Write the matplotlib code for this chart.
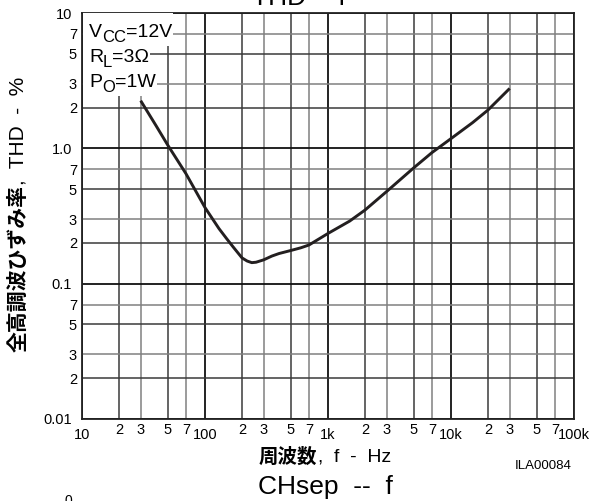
import matplotlib
matplotlib.use("Agg")
import matplotlib.pyplot as plt
from matplotlib.patches import Rectangle
from matplotlib.ticker import FixedLocator, FixedFormatter

# ---------------- data ----------------
freq_hz = [30, 40, 50, 70, 100, 130, 150, 170, 200, 220, 240, 260, 300, 350, 400,
           500, 600, 700, 1000, 1500, 2000, 3000, 5000, 7000, 10000, 15000, 20000, 30000]
thd_pct = [2.25, 1.47, 1.05, 0.65, 0.365, 0.255, 0.215, 0.186, 0.155, 0.147, 0.143,
           0.144, 0.150, 0.160, 0.167, 0.176, 0.184, 0.193, 0.235, 0.29, 0.35, 0.48,
           0.72, 0.93, 1.18, 1.55, 1.92, 2.77]

x_major = [10, 100, 1000, 10000, 100000]
x_major_labels = ["10", "100", "1k", "10k", "100k"]
x_minor = [20, 30, 50, 70, 200, 300, 500, 700, 2000, 3000, 5000, 7000,
           20000, 30000, 50000, 70000]
x_minor_labels = ["2", "3", "5", "7"] * 4

y_major = [0.01, 0.1, 1.0, 10]
y_major_labels = ["0.01", "0.1", "1.0", "10"]
y_minor = [0.02, 0.03, 0.05, 0.07, 0.2, 0.3, 0.5, 0.7, 2, 3, 5, 7]
y_minor_labels = ["2", "3", "5", "7"] * 3

# (main letter, subscript, rest)
cond_parts = [("V", "CC", "=12V"), ("R", "L", "=3Ω"), ("P", "O", "=1W")]

# ---------------- style ----------------
plt.rcParams["font.family"] = ["Liberation Sans", "DejaVu Sans"]

W, H = 593, 501
fig = plt.figure(figsize=(W / 100, H / 100), dpi=100)
L, R, T, B = 82, 574, 13, 419
ax = fig.add_axes([L / W, 1 - B / H, (R - L) / W, (B - T) / H])
ax.set_xscale("log")
ax.set_yscale("log")
ax.set_xlim(10, 1e5)
ax.set_ylim(0.01, 10)

# grid
for v in x_major:
    ax.axvline(v, color="#111111", lw=1.3, zorder=1)
for v, lab in zip(x_minor, x_minor_labels):
    c = "#3a3a3a" if lab in ("2", "5") else "#808080"
    ax.axvline(v, color=c, lw=1.1, zorder=1)
for v in y_major:
    ax.axhline(v, color="#111111", lw=1.3, zorder=1)
for v, lab in zip(y_minor, y_minor_labels):
    c = "#3a3a3a" if lab in ("2", "5") else "#808080"
    ax.axhline(v, color=c, lw=1.1, zorder=1)

ax.plot(freq_hz, thd_pct, color="#231f20", lw=2.1, zorder=5,
        solid_capstyle="butt", solid_joinstyle="round")

for s in ax.spines.values():
    s.set_color("#222222")
    s.set_linewidth(1.3)
    s.set_zorder(6)

ax.xaxis.set_major_locator(FixedLocator(x_major))
ax.xaxis.set_major_formatter(FixedFormatter(x_major_labels))
ax.xaxis.set_minor_locator(FixedLocator(x_minor))
ax.xaxis.set_minor_formatter(FixedFormatter(x_minor_labels))
ax.yaxis.set_major_locator(FixedLocator(y_major))
ax.yaxis.set_major_formatter(FixedFormatter(y_major_labels))
ax.yaxis.set_minor_locator(FixedLocator(y_minor))
ax.yaxis.set_minor_formatter(FixedFormatter(y_minor_labels))

ax.tick_params(axis="x", which="major", length=0, pad=6.6, labelsize=10.5)
ax.tick_params(axis="x", which="minor", length=0, pad=2.9, labelsize=10.5)
ax.tick_params(axis="y", which="major", length=0, pad=7.2, labelsize=10.5)
ax.tick_params(axis="y", which="minor", length=0, pad=3.6, labelsize=10.5)


def fx(px):
    return px / W


def fy(py):
    return 1 - py / H


fig.canvas.draw()
rend = fig.canvas.get_renderer()

# condition text built from pieces, with white backgrounds
baselines = [37, 62, 87]
prev_bottom = T
for i, ((m, sub, rest), by) in enumerate(zip(cond_parts, baselines)):
    t1 = fig.text(fx(89), fy(by), m, fontsize=14, ha="left", va="baseline", zorder=8)
    e1 = t1.get_window_extent(rend)
    t2 = fig.text(e1.x1 / W, fy(by + 5), sub, fontsize=12, ha="left", va="baseline", zorder=8)
    e2 = t2.get_window_extent(rend)
    t3 = fig.text(e2.x1 / W, fy(by), rest, fontsize=14, ha="left", va="baseline", zorder=8)
    e3 = t3.get_window_extent(rend)
    top_px = H - max(e1.y1, e3.y1)
    bot_px = H - min(e1.y0, e2.y0)
    y_top = prev_bottom if i == 0 else min(prev_bottom, top_px - 2)
    y_bot = bot_px + 1
    if i == len(cond_parts) - 1:
        y_bot = 96
    rect = Rectangle((fx(L + 0.5), fy(y_bot)), fx(e3.x1 + 1) - fx(L + 0.5), fy(y_top) - fy(y_bot),
                     transform=fig.transFigure, facecolor="white", edgecolor="none", zorder=7)
    fig.patches.append(rect)
    prev_bottom = y_bot

# x label (bold CJK + regular latin)
xl1 = fig.text(fx(259), fy(457), "周波数", fontsize=14, fontweight="bold",
               family=["Noto Sans CJK JP"], ha="left", va="center")
bb = xl1.get_window_extent(rend)
fig.text(bb.x1 / W, fy(457), ",  f  -  Hz", fontsize=14, ha="left", va="center")

# y label (rotated)
yl1 = fig.text(fx(18), fy(352), "全高調波ひずみ率", fontsize=15, fontweight="bold",
               family=["Noto Sans CJK JP"], rotation=90, ha="center", va="bottom")
bb = yl1.get_window_extent(rend)
fig.text(fx(18), bb.y1 / H, ",  THD  -  %", fontsize=15, rotation=90, ha="center", va="bottom")

# other texts
fig.text(fx(572), fy(466), "ILA00084", fontsize=9.5, ha="right", va="center")
fig.text(fx(258), fy(494), "CHsep  --  f", fontsize=19, ha="left", va="baseline")
fig.text(fx(252), fy(5), "THD -- f", fontsize=19, ha="left", va="baseline")
fig.text(fx(68), fy(494), "0", fontsize=10, ha="center", va="top")

fig.savefig("out.png", dpi=100)
